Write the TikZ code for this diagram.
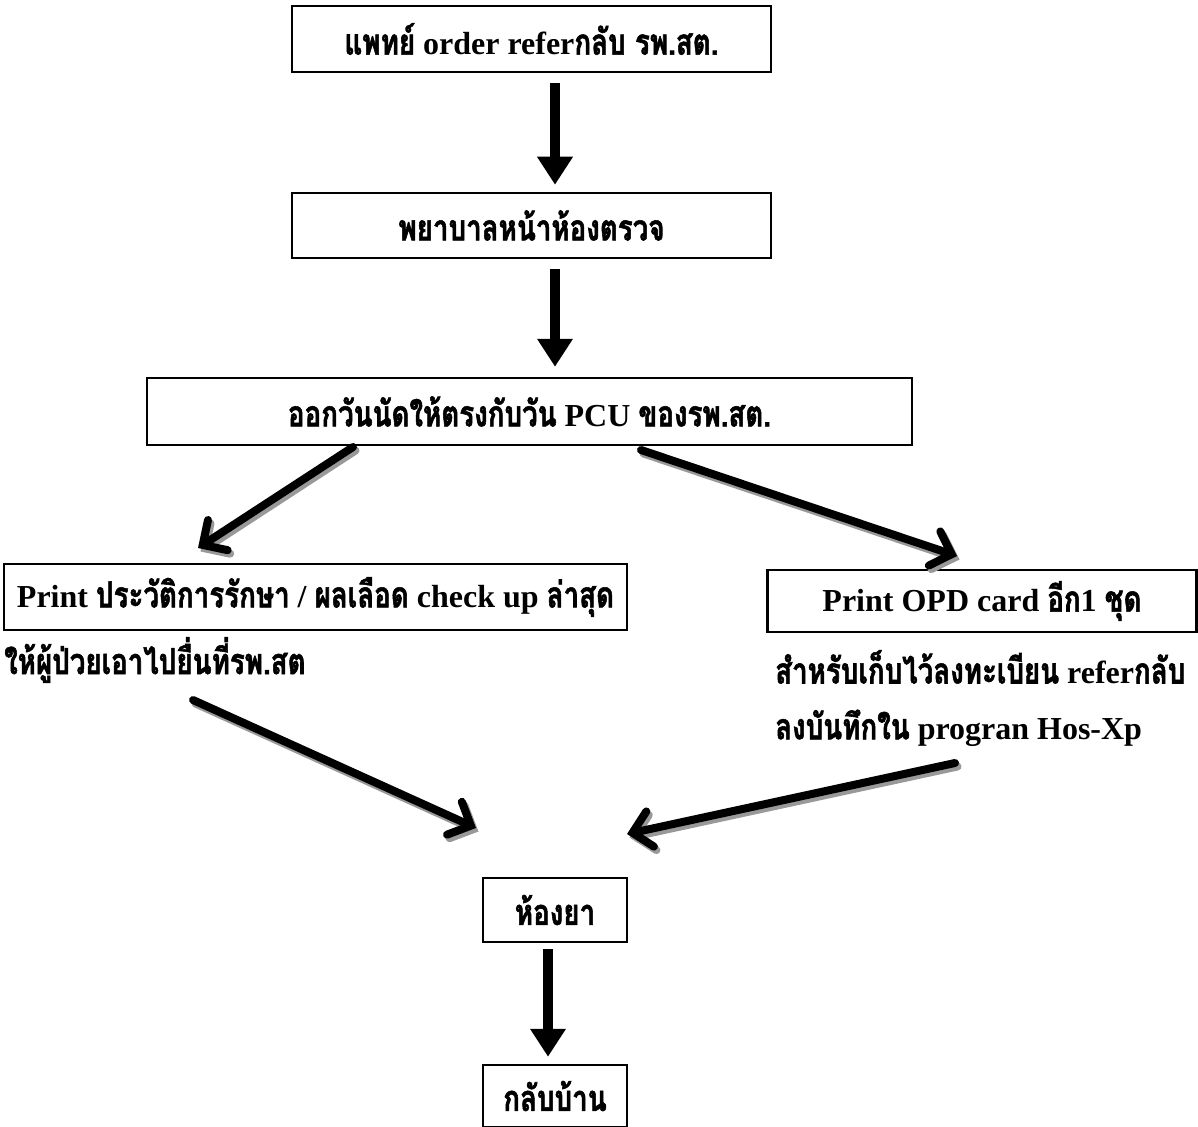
\documentclass[tikz,border=0pt]{standalone}
\usepackage{fontspec}
\setmainfont{Liberation Serif}
\newfontfamily\thaif[Script=Thai,Scale=1.125,FakeStretch=0.77,FakeBold=1.5]{Loma}
\usetikzlibrary{arrows.meta}
\newcommand{\T}[1]{{\thaif #1}}
\begin{document}
\begin{tikzpicture}[x=1pt,y=-1pt,
  box/.style={draw,line width=2.5pt,inner sep=0pt,font=\fontsize{32}{38}\selectfont\bfseries},
  lbl/.style={inner sep=0pt,anchor=west,font=\fontsize{32}{38}\selectfont\bfseries},
  varrow/.style={line width=10pt,-{Triangle[length=28pt,width=34pt]}},
  darrow/.style={line width=8pt,line cap=round,-{Straight Barb[length=18pt,width=36pt,line cap=round]}},
  shadow/.style={draw=black!40,transform canvas={shift={(2.5pt,-3.5pt)}}}]
\useasboundingbox (0,0) rectangle (1198,1126);
\node[box,minimum width=479pt,minimum height=66pt] (b1) at (531.5,39) {\T{แพทย์} order refer\T{กลับ รพ.สต.}};
\node[box,minimum width=479pt,minimum height=65pt] (b2) at (531.5,225.5) {\T{พยาบาลหน้าห้องตรวจ}};
\node[box,minimum width=765pt,minimum height=67pt] (b3) at (529.5,411.5) {\T{ออกวันนัดให้ตรงกับวัน} PCU \T{ของรพ.สต.}};
\node[box,minimum width=623pt,minimum height=66pt] (b4) at (315.5,597) {Print \T{ประวัติการรักษา} / \T{ผลเลือด} check up \T{ล่าสุด}};
\node[lbl] (t1) at (4,660) {\T{ให้ผู้ป่วยเอาไปยื่นที่รพ.สต}};
\node[box,minimum width=429pt,minimum height=62pt] (b5) at (982,601) {Print OPD card \T{อีก}1 \T{ชุด}};
\node[lbl] (t2) at (775,667) {\T{สำหรับเก็บไว้ลงทะเบียน} refer\T{กลับ}};
\node[lbl] (t3) at (775,728) {\T{ลงบันทึกใน} progran Hos-Xp};
\node[box,minimum width=144pt,minimum height=64pt] (b6) at (555,910) {\T{ห้องยา}};
\node[box,minimum width=144pt,minimum height=62pt] (b7) at (555,1096) {\T{กลับบ้าน}};
% arrow coordinates
\coordinate (a3s) at (353,447);
\coordinate (a3e) at (198,548);
\coordinate (a4s) at (641,450);
\coordinate (a4e) at (957,556);
\coordinate (a5s) at (193,700);
\coordinate (a5e) at (476,828);
\coordinate (a6s) at (955,763);
\coordinate (a6e) at (627,834);
% shadows
\draw[darrow,shadow] (a3s) -- (a3e);
\draw[darrow,shadow] (a4s) -- (a4e);
\draw[darrow,shadow] (a5s) -- (a5e);
\draw[darrow,shadow] (a6s) -- (a6e);
% arrows
\draw[varrow] ([xshift=23.5pt,yshift=-10pt]b1.south) -- ([xshift=23.5pt,yshift=7pt]b2.north);
\draw[varrow] ([xshift=23.5pt,yshift=-10pt]b2.south) -- ([xshift=25.5pt,yshift=10pt]b3.north);
\draw[darrow] (a3s) -- (a3e);
\draw[darrow] (a4s) -- (a4e);
\draw[darrow] (a5s) -- (a5e);
\draw[darrow] (a6s) -- (a6e);
\draw[varrow] ([xshift=-7pt,yshift=-6pt]b6.south) -- ([xshift=-7pt,yshift=7pt]b7.north);
\end{tikzpicture}
\end{document}
